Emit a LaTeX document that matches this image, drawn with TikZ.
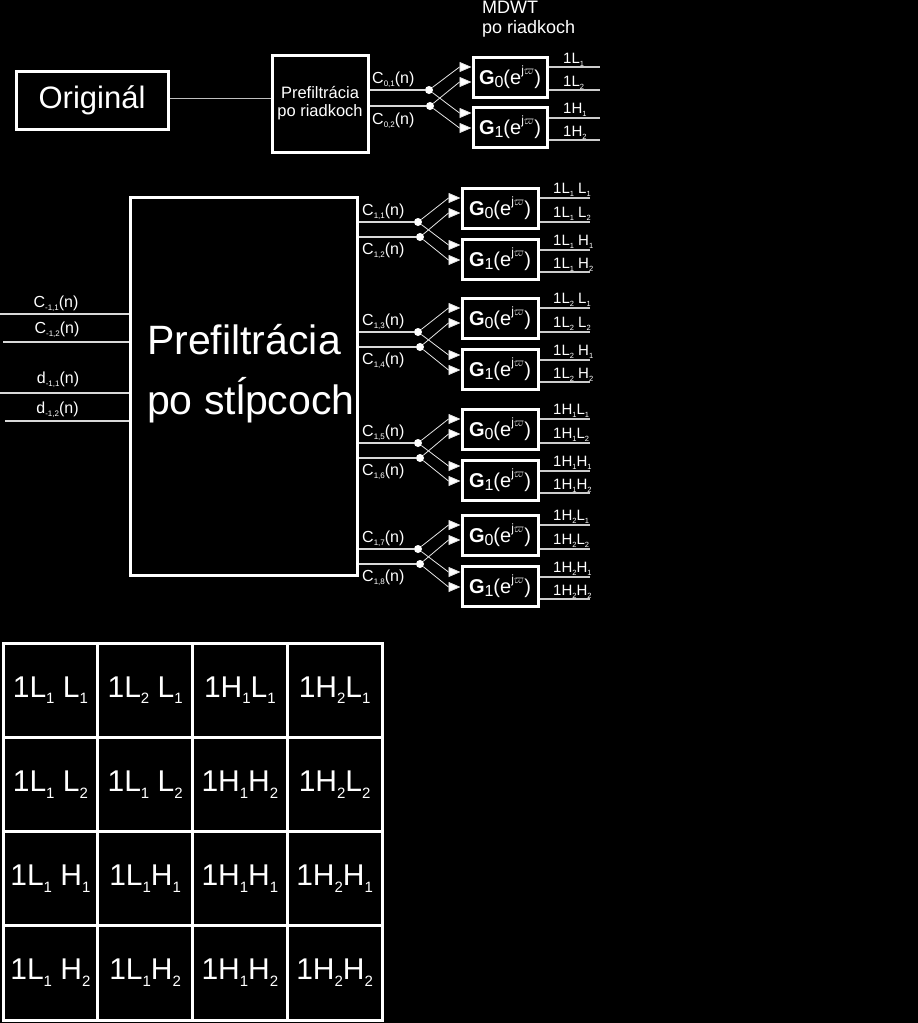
\documentclass[tikz,border=0pt]{standalone}
\usepackage{fontspec}
\setmainfont{Liberation Sans}
\usetikzlibrary{arrows.meta,calc}
\newcommand\sbx[1]{\raisebox{-0.22em}{\scalebox{0.5}{#1}}}
\newcommand\gsub[1]{\raisebox{-0.15em}{\scalebox{0.8}{#1}}}
\newcommand\Gf[1]{{\bfseries G}\gsub{#1}(e\raisebox{0.48em}{\scalebox{0.6}{j$\varpi$}})}
\newcommand\fs[1]{\fontsize{#1}{#1}\selectfont}
\begin{document}
\begin{tikzpicture}[x=1pt,y=-1pt,
  box/.style={draw=white, line width=3pt, fill=black, text=white, inner sep=0pt},
  gbox/.style={box, font=\fs{20}},
  cell/.style={draw=white, line width=3pt, text=white, inner sep=0pt, minimum width=94.75, minimum height=94.25, font=\fs{30}},
  thinl/.style={draw=white!75!black, line width=1pt},
  chan/.style={draw=white!85!black, line width=1.2pt},
  outl/.style={draw=white!80!black, line width=1.1pt},
  arr/.style={draw=white!90!black, line width=0.8pt, -{Triangle[length=12pt,width=10pt,fill=white]}},
  dotn/.style={circle, fill=white, inner sep=0pt, minimum size=8pt},
  clab/.style={text=white, inner sep=0pt, font=\fs{16}},
  olab/.style={text=white, inner sep=0pt, font=\fs{15}}]
\fill[black] (0,0) rectangle (918,1023);
\useasboundingbox (0,0) rectangle (918,1023);

% ---------- top: row prefiltering ----------
\node[box, minimum width=152, minimum height=58, font=\fs{31}] (orig) at (92,100) {Originál\hspace{20pt}};
\node[box, minimum width=96, minimum height=97, align=center, font=\fontsize{16.5}{18}\selectfont] (prefr) at (320,103.5) {Prefiltrácia\\po riadkoch};
\draw[thinl] ([yshift=2pt]orig.east) -- ([yshift=2pt]orig.east -| prefr.west);
\node[text=white, inner sep=0pt, anchor=north west, align=left, font=\fontsize{18}{20}\selectfont] (mdwt) at (482,1) {MDWT\\po riadkoch};

\node[gbox, minimum width=74, minimum height=40] (tga) at (510,77) {\Gf{0}};
\node[gbox, minimum width=74, minimum height=40] (tgb) at (510,127) {\Gf{1}};
\node[dotn] (tda) at (429,90) {};
\node[dotn] (tdb) at (430,106) {};
\draw[chan] (tda -| prefr.east) -- (tda);
\draw[chan] (tdb -| prefr.east) -- (tdb);
\node[clab, anchor=base west] (tla) at (372,83) {C\sbx{0,1}(n)};
\node[clab, anchor=base west] (tlb) at (372,124) {C\sbx{0,2}(n)};
\draw[arr] (tda) -- ([xshift=-12pt,yshift=10pt]tga.west) -- ([yshift=10pt]tga.west);
\draw[arr] (tda) -- ([xshift=-12pt,yshift=14pt]tgb.west) -- ([yshift=14pt]tgb.west);
\draw[arr] (tdb) -- ([xshift=-12pt,yshift=-5pt]tga.west) -- ([yshift=-5pt]tga.west);
\draw[arr] (tdb) -- ([xshift=-12pt,yshift=-1pt]tgb.west) -- ([yshift=-1pt]tgb.west);
\draw[outl] ([yshift=10pt]tga.east) -- ++(51,0);
\draw[outl] ([yshift=-13pt]tga.east) -- ++(51,0);
\draw[outl] ([yshift=9pt]tgb.east) -- ++(51,0);
\draw[outl] ([yshift=-13pt]tgb.east) -- ++(51,0);
\node[olab, anchor=base west] at (563,63) {1L\sbx{1}};
\node[olab, anchor=base west] at (563,86) {1L\sbx{2}};
\node[olab, anchor=base west] at (563,113) {1H\sbx{1}};
\node[olab, anchor=base west] at (563,136) {1H\sbx{2}};

% ---------- middle: column prefiltering ----------
\node[box, minimum width=227, minimum height=378] (pc) at (243.5,386) {};
\node[text=white, inner sep=0pt, anchor=west, align=left, font=\fontsize{41}{60}\selectfont] (pctext) at (147,374) {Prefiltrácia\\po stĺpcoch};

\coordinate (ia) at (0,314);
\coordinate (ib) at (3,342);
\coordinate (ic) at (0,393);
\coordinate (id) at (5,421);
\draw[chan] (ia) -- (ia -| pc.west);
\draw[chan] (ib) -- (ib -| pc.west);
\draw[chan] (ic) -- (ic -| pc.west);
\draw[chan] (id) -- (id -| pc.west);
\node[clab, anchor=base] at (56,307) {C\sbx{-1,1}(n)};
\node[clab, anchor=base] at (57,333) {C\sbx{-1,2}(n)};
\node[clab, anchor=base] at (58,383) {d\sbx{-1,1}(n)};
\node[clab, anchor=base] at (57.5,413) {d\sbx{-1,2}(n)};

\foreach \T/\k/\a/\b/\oa/\ob/\oc/\od in {
  188/1/1/2/{1L\sbx{1} L\sbx{1}}/{1L\sbx{1} L\sbx{2}}/{1L\sbx{1} H\sbx{1}}/{1L\sbx{1} H\sbx{2}},
  298/2/3/4/{1L\sbx{2} L\sbx{1}}/{1L\sbx{2} L\sbx{2}}/{1L\sbx{2} H\sbx{1}}/{1L\sbx{2} H\sbx{2}},
  409/3/5/6/{1H\sbx{1}L\sbx{1}}/{1H\sbx{1}L\sbx{2}}/{1H\sbx{1}H\sbx{1}}/{1H\sbx{1}H\sbx{2}},
  515/4/7/8/{1H\sbx{2}L\sbx{1}}/{1H\sbx{2}L\sbx{2}}/{1H\sbx{2}H\sbx{1}}/{1H\sbx{2}H\sbx{2}}}{
  \node[gbox, minimum width=76, minimum height=40] (ga\k) at (500,{\T+20}) {\Gf{0}};
  \node[gbox, minimum width=76, minimum height=40] (gb\k) at (500,{\T+71}) {\Gf{1}};
  \node[dotn] (da\k) at (418,{\T+34}) {};
  \node[dotn] (db\k) at (420,{\T+49}) {};
  \draw[chan] (da\k -| pc.east) -- (da\k);
  \draw[chan] (db\k -| pc.east) -- (db\k);
  \node[clab, anchor=base west] (la\k) at (362,{\T+27}) {C\sbx{1,\a}(n)};
  \node[clab, anchor=base west] (lb\k) at (362,{\T+66}) {C\sbx{1,\b}(n)};
  \draw[arr] (da\k) -- ([xshift=-12pt,yshift=10pt]ga\k.west) -- ([yshift=10pt]ga\k.west);
  \draw[arr] (da\k) -- ([xshift=-12pt,yshift=14pt]gb\k.west) -- ([yshift=14pt]gb\k.west);
  \draw[arr] (db\k) -- ([xshift=-12pt,yshift=-5pt]ga\k.west) -- ([yshift=-5pt]ga\k.west);
  \draw[arr] (db\k) -- ([xshift=-12pt,yshift=-1pt]gb\k.west) -- ([yshift=-1pt]gb\k.west);
  \draw[outl] ([yshift=10pt]ga\k.east) -- ++(50,0);
  \draw[outl] ([yshift=-14pt]ga\k.east) -- ++(50,0);
  \draw[outl] ([yshift=9pt]gb\k.east) -- ++(50,0);
  \draw[outl] ([yshift=-13pt]gb\k.east) -- ++(50,0);
  \node[olab, anchor=base west] at (553,{\T+5}) {\oa};
  \node[olab, anchor=base west] at (553,{\T+29}) {\ob};
  \node[olab, anchor=base west] at (553,{\T+57}) {\oc};
  \node[olab, anchor=base west] at (553,{\T+80}) {\od};
}

% ---------- bottom: subband grid ----------
\foreach \c/\r/\t in {
  0/0/{1L\sbx{1} L\sbx{1}}, 1/0/{1L\sbx{2} L\sbx{1}}, 2/0/{1H\sbx{1}L\sbx{1}}, 3/0/{1H\sbx{2}L\sbx{1}},
  0/1/{1L\sbx{1} L\sbx{2}}, 1/1/{1L\sbx{1} L\sbx{2}}, 2/1/{1H\sbx{1}H\sbx{2}}, 3/1/{1H\sbx{2}L\sbx{2}},
  0/2/{1L\sbx{1} H\sbx{1}}, 1/2/{1L\sbx{1}H\sbx{1}}, 2/2/{1H\sbx{1}H\sbx{1}}, 3/2/{1H\sbx{2}H\sbx{1}},
  0/3/{1L\sbx{1} H\sbx{2}}, 1/3/{1L\sbx{1}H\sbx{2}}, 2/3/{1H\sbx{1}H\sbx{2}}, 3/3/{1H\sbx{2}H\sbx{2}}}{
  \node[cell] (cell\c\r) at ({3+94.75*(\c+0.5)},{643+94.25*(\r+0.5)}) {\t};
}
\end{tikzpicture}
\end{document}
